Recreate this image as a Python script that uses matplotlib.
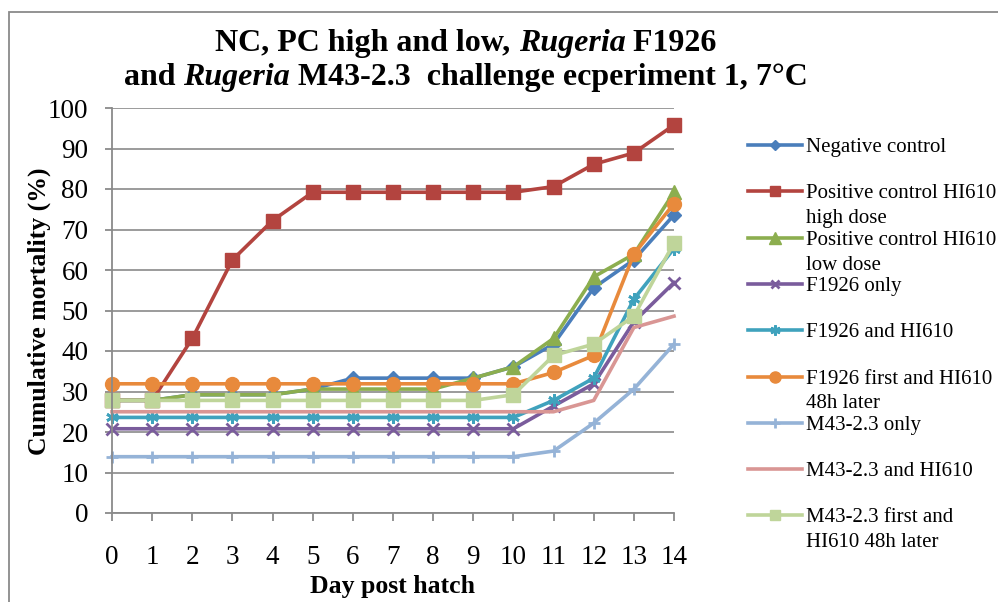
import matplotlib
matplotlib.use("Agg")
import matplotlib.pyplot as plt
from matplotlib.lines import Line2D
from matplotlib.patches import Rectangle

W, H = 998, 602
plt.rcParams['font.family'] = ['Liberation Serif', 'DejaVu Serif']

days = list(range(15))

neg_control = [27.8, 27.8, 29.2, 29.2, 29.2, 30.6, 33.3, 33.3, 33.3, 33.3, 36.1, 41.7, 55.6, 62.5, 73.6]
pos_high = [27.8, 27.8, 43.1, 62.5, 72.2, 79.2, 79.2, 79.2, 79.2, 79.2, 79.2, 80.6, 86.1, 88.9, 95.8]
pos_low = [27.8, 27.8, 29.2, 29.2, 29.2, 30.6, 30.6, 30.6, 30.6, 33.3, 36.1, 43.1, 58.3, 63.9, 79.2]
f1926_only = [20.8, 20.8, 20.8, 20.8, 20.8, 20.8, 20.8, 20.8, 20.8, 20.8, 20.8, 26.4, 31.9, 47.2, 56.9]
f1926_hi610 = [23.6, 23.6, 23.6, 23.6, 23.6, 23.6, 23.6, 23.6, 23.6, 23.6, 23.6, 27.8, 33.3, 52.8, 65.3]
f1926_first = [31.9, 31.9, 31.9, 31.9, 31.9, 31.9, 31.9, 31.9, 31.9, 31.9, 31.9, 34.7, 38.9, 63.9, 76.4]
m43_only = [13.9, 13.9, 13.9, 13.9, 13.9, 13.9, 13.9, 13.9, 13.9, 13.9, 13.9, 15.3, 22.2, 30.6, 41.7]
m43_hi610 = [25.0, 25.0, 25.0, 25.0, 25.0, 25.0, 25.0, 25.0, 25.0, 25.0, 25.0, 25.0, 27.8, 45.8, 48.6]
m43_first = [27.8, 27.8, 27.8, 27.8, 27.8, 27.8, 27.8, 27.8, 27.8, 27.8, 29.2, 38.9, 41.7, 48.6, 66.7]

labels = ["Negative control",
          "Positive control HI610\nhigh dose",
          "Positive control HI610\nlow dose",
          "F1926 only",
          "F1926 and HI610",
          "F1926 first and HI610\n48h later",
          "M43-2.3 only",
          "M43-2.3 and HI610",
          "M43-2.3 first and\nHI610 48h later"]
series = [neg_control, pos_high, pos_low, f1926_only, f1926_hi610,
          f1926_first, m43_only, m43_hi610, m43_first]
colors = ['#4A7EBB', '#B3443F', '#8CAE4F', '#7A5C9C', '#3FA2BD',
          '#E88A3C', '#95B3D7', '#D99694', '#BFD59A']
markers = ['D', 's', '^', 'x', (6, 2, 0), 'o', '+', 'None', 's']
msizes = [7, 9.5, 10, 8, 9, 10, 9, 0, 9.5]

fig = plt.figure(figsize=(W / 100, H / 100), dpi=100)
ax = fig.add_axes([112 / W, 1 - 513 / H, 562 / W, 405 / H])

for y, c, m, ms in zip(series, colors, markers, msizes):
    ax.plot(days, y, color=c, lw=2.6, marker=m, markersize=ms,
            markeredgewidth=2 if m in ('x', '+', (6, 2, 0)) else 1,
            markeredgecolor=c, markerfacecolor=c, clip_on=False)

ax.set_xlim(0, 14)
ax.set_ylim(0, 100)
ax.set_xticks(days)
ax.set_yticks(range(0, 101, 10))
ax.grid(axis='y', color='#8a8a8a', lw=1.2)
ax.set_axisbelow(True)
for s in ('top', 'right'):
    ax.spines[s].set_visible(False)
for s in ('left', 'bottom'):
    ax.spines[s].set_color('#8a8a8a')
    ax.spines[s].set_linewidth(1.3)
ax.tick_params(axis='both', colors='#8a8a8a', labelcolor='black',
               labelsize=19.5, width=1.3)
ax.tick_params(axis='x', length=6, pad=17)
ax.tick_params(axis='y', length=5, pad=12)

fig.text(39 / W, 1 - 311 / H, "Cumulative mortality (%)", rotation=90,
         ha='center', va='center', fontsize=18.5, fontweight='bold')
fig.text(393 / W, 1 - 593 / H, "Day post hatch", ha='center',
         va='baseline', fontsize=18.5, fontweight='bold')

# title with italic genus names
renderer = fig.canvas.get_renderer()


def piece_width(s, prop):
    w1 = renderer.get_text_width_height_descent('|' + s + '|', prop, ismath=False)[0]
    w0 = renderer.get_text_width_height_descent('||', prop, ismath=False)[0]
    return w1 - w0


def rich_line(cx_px, y_px, pieces, size=23):
    texts = []
    x = 0
    for s, style in pieces:
        t = fig.text(0, 1 - y_px / H, s, fontsize=size, fontweight='bold',
                     fontstyle=style, ha='left', va='baseline')
        texts.append((t, x))
        x += piece_width(s, t.get_fontproperties())
    start = cx_px - x / 2
    for t, off in texts:
        t.set_x((start + off) / W)


rich_line(466, 51, [("NC, PC high and low, ", 'normal'), ("Rugeria", 'italic'),
                    (" F1926", 'normal')])
rich_line(466, 85, [("and ", 'normal'), ("Rugeria", 'italic'),
                    (" M43-2.3  challenge ecperiment 1, 7°C", 'normal')])

# legend drawn Excel-style (marker on the first text line)
for i, (lab, c, m, ms) in enumerate(zip(labels, colors, markers, msizes)):
    yy = 145 + 46.3 * i
    fig.add_artist(Line2D([748 / W, 802 / W], [1 - yy / H, 1 - yy / H],
                          color=c, lw=2.6, transform=fig.transFigure))
    fig.add_artist(Line2D([775 / W], [1 - yy / H], color=c, marker=m,
                          markersize=ms * 0.8, markeredgecolor=c,
                          markeredgewidth=2 if m in ('x', '+', (6, 2, 0)) else 1,
                          transform=fig.transFigure))
    for j, line in enumerate(lab.split('\n')):
        fig.text(806 / W, 1 - (yy + 7 + 25 * j) / H, line, fontsize=15,
                 ha='left', va='baseline')

fig.add_artist(Rectangle((9 / W, -0.05), 1.2, 1.05 - 12 / H, fill=False,
                         edgecolor='#8a8a8a', lw=1.3, transform=fig.transFigure))

fig.savefig("out.png", dpi=100)
